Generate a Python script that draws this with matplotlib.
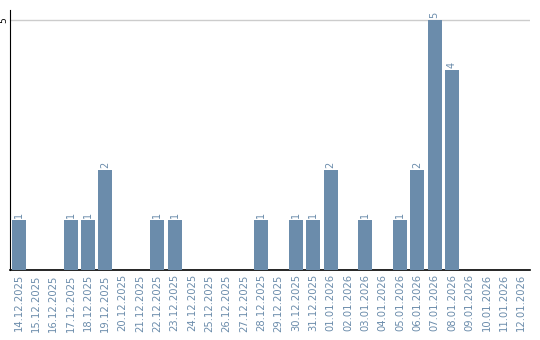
import matplotlib
matplotlib.use("Agg")
import matplotlib.pyplot as plt
import numpy as np

dates = ["14.12.2025","15.12.2025","16.12.2025","17.12.2025","18.12.2025","19.12.2025",
         "20.12.2025","21.12.2025","22.12.2025","23.12.2025","24.12.2025","25.12.2025",
         "26.12.2025","27.12.2025","28.12.2025","29.12.2025","30.12.2025","31.12.2025",
         "01.01.2026","02.01.2026","03.01.2026","04.01.2026","05.01.2026","06.01.2026",
         "07.01.2026","08.01.2026","09.01.2026","10.01.2026","11.01.2026","12.01.2026"]
values = [1,0,0,1,1,2,0,0,1,1,0,0,0,0,1,0,1,1,2,0,1,0,1,2,5,4,0,0,0,0]

color = "#6b8cab"
fig = plt.figure(figsize=(5.4, 3.4), dpi=100)
ax = fig.add_axes([10/540, 70/340, 520/540, 260/340])
x = np.arange(len(dates))
ax.bar(x, values, width=0.8, color=color, zorder=3)
for xi, v in zip(x, values):
    if v > 0:
        ax.text(xi, v + 0.05, str(v), rotation=90, ha="center", va="bottom",
                fontsize=7, color=color)
ax.set_xlim(-0.5, len(dates) - 0.5)
ax.set_ylim(0, 5.2)
ax.set_yticks([5])
ax.set_yticklabels(["5"], rotation=90, va="center", fontsize=6.5)
ax.set_xticks(x)
ax.set_xticklabels(dates, rotation=90, fontsize=7.2, color=color)
ax.tick_params(axis="x", length=0, pad=3)
ax.tick_params(axis="y", length=0, pad=1)
ax.grid(axis="y", color="#cccccc", linewidth=1, zorder=0)
for s in ["top", "right"]:
    ax.spines[s].set_visible(False)
ax.spines["left"].set_color("black")
ax.spines["bottom"].set_color("black")
ax.spines["bottom"].set_linewidth(1.2)
fig.savefig("out.png", dpi=100)
